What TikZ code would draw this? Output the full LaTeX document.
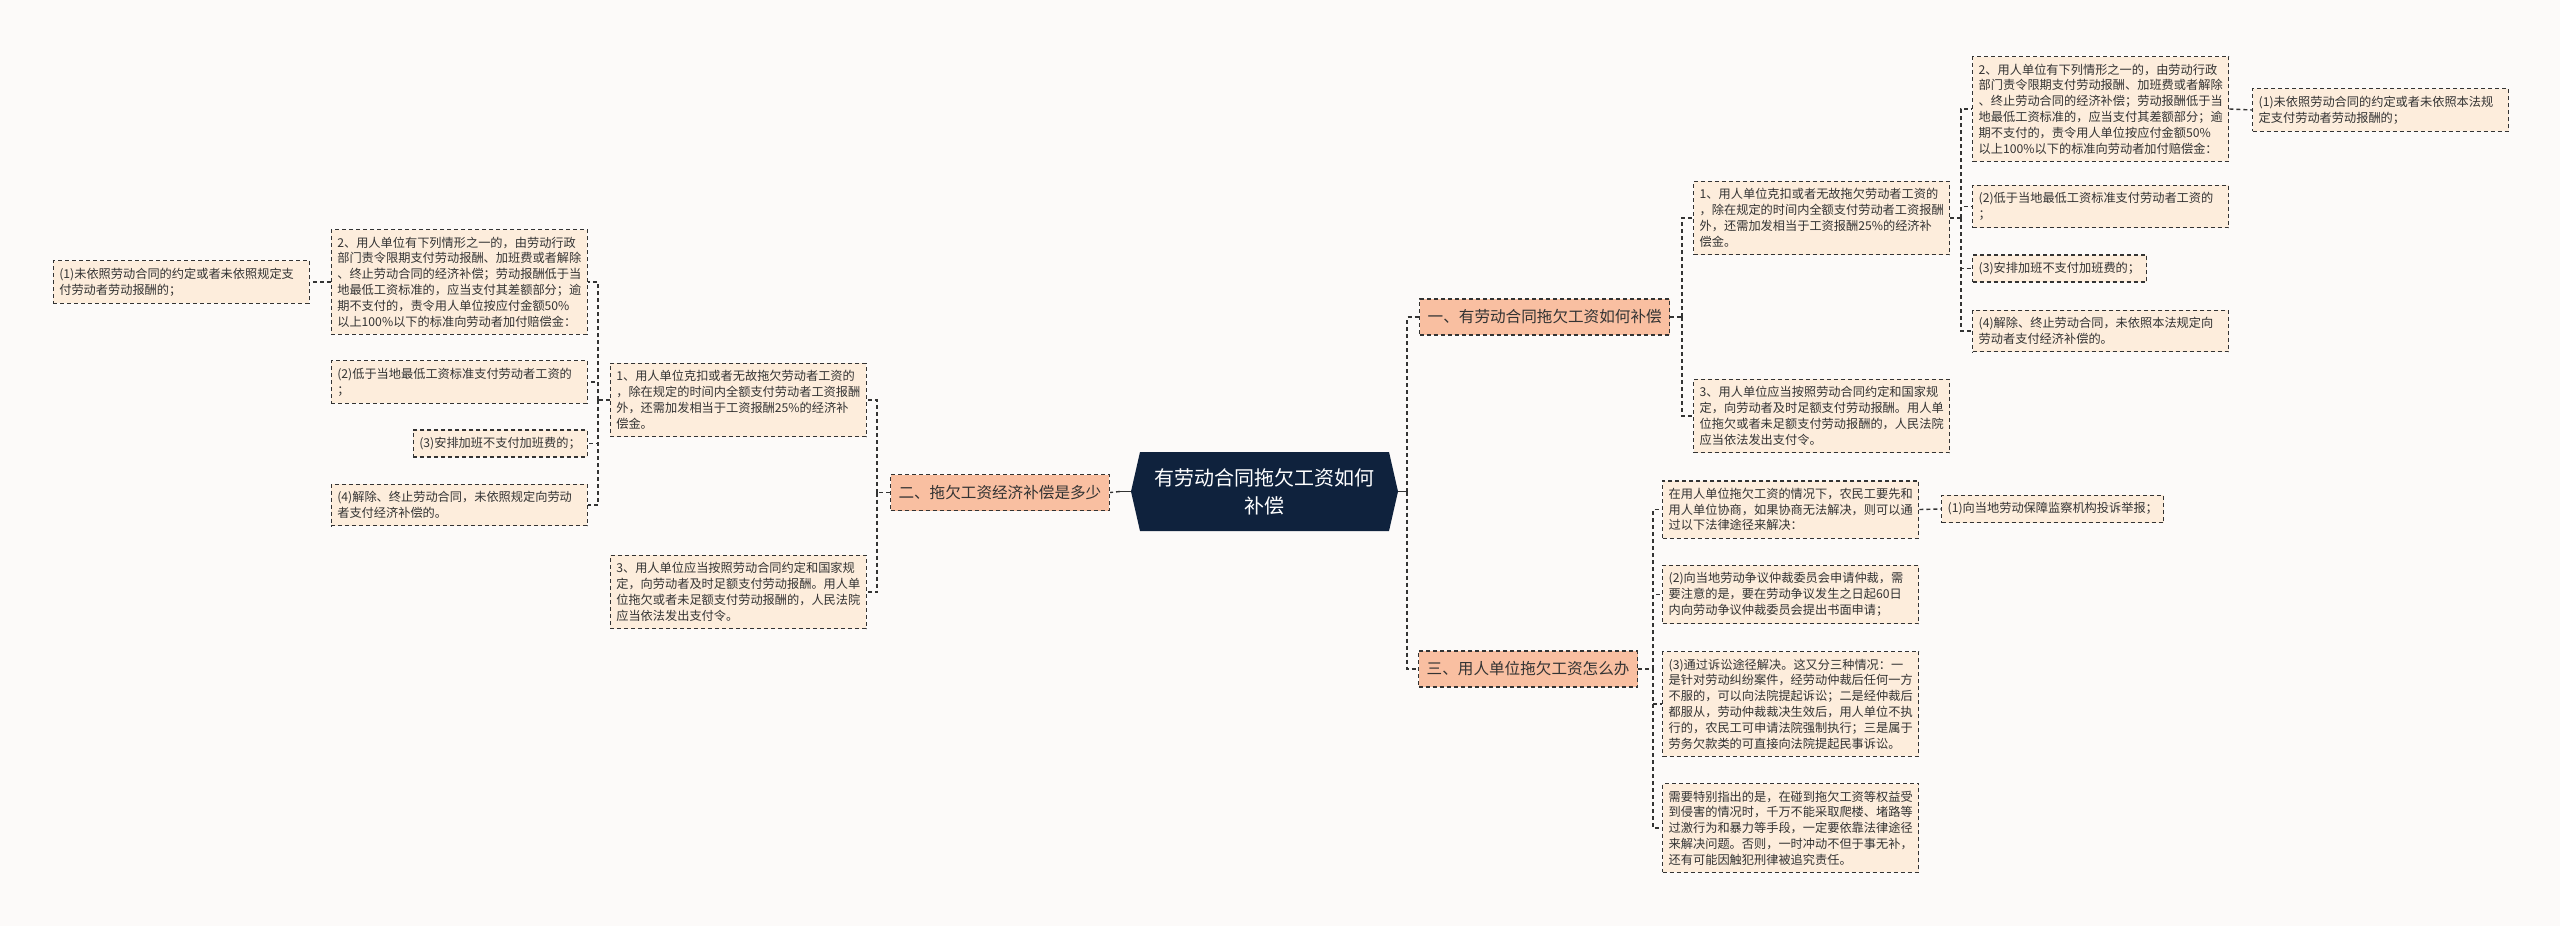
\documentclass[tikz,border=0pt]{standalone}
\usepackage{fontspec}
\setmainfont{Noto Sans CJK SC}

\definecolor{bgcol}{HTML}{FCFAF9}
\definecolor{leafcol}{HTML}{FDEDDC}
\definecolor{branchcol}{HTML}{F9BFA1}
\definecolor{rootcol}{HTML}{0F223D}
\definecolor{inkcol}{HTML}{333333}

\begin{document}
\begin{tikzpicture}[x=0.5pt,y=-0.5pt]
            \tikzset{box/.style = {draw=inkcol, dash pattern=on 2pt off 1.5pt, line width=0.7pt, fill=leafcol, text=inkcol, font=\fontsize{6.1pt}{7.9pt}\selectfont, inner xsep=3pt, inner ysep=3.6pt}}
            \tikzset{leaf/.style = {box, text width=122pt, align=left}}
            \tikzset{branch/.style = {box, fill=branchcol, font=\fontsize{7.8pt}{9pt}\selectfont, inner xsep=4pt, minimum height=18pt}}
            \tikzset{root/.style = {text=white, font=\fontsize{10pt}{14pt}\selectfont, align=center, minimum width=133.5pt, minimum height=39.5pt}}
            \tikzset{link/.style = {draw=inkcol, dash pattern=on 2pt off 1.5pt, line width=0.7pt}}
            \tikzset{stem/.style = {draw=inkcol, line width=0.7pt}}
            % canvas
            \fill[bgcol] (0,0) rectangle (2560,926);
            \useasboundingbox (0,0) rectangle (2560,926);
            % root
            \fill[rootcol] (1131,491.5) -- (1140,452) -- (1389,452) -- (1398,491.5) -- (1389,531) -- (1140,531) -- cycle;
            \node[root] (root) at (1264.5,491.5) {有劳动合同拖欠工资如何\\补偿};
            % branches
            \node[branch, anchor=west] (yi) at (1419,317) {一、有劳动合同拖欠工资如何补偿};
            \node[branch, anchor=east] (er) at (1110,492.5) {二、拖欠工资经济补偿是多少};
            \node[branch, anchor=west] (san) at (1418,669) {三、用人单位拖欠工资怎么办};
            % right side, branch one
            \node[leaf, anchor=west] (r1) at (1693,218) {1、用人单位克扣或者无故拖欠劳动者工资的\\，除在规定的时间内全额支付劳动者工资报酬\\外，还需加发相当于工资报酬25\%的经济补\\偿金。};
            \node[leaf, anchor=west] (r3) at (1693,416) {3、用人单位应当按照劳动合同约定和国家规\\定，向劳动者及时足额支付劳动报酬。用人单\\位拖欠或者未足额支付劳动报酬的，人民法院\\应当依法发出支付令。};
            \node[leaf, anchor=west] (r1a) at (1972,109) {2、用人单位有下列情形之一的，由劳动行政\\部门责令限期支付劳动报酬、加班费或者解除\\、终止劳动合同的经济补偿；劳动报酬低于当\\地最低工资标准的，应当支付其差额部分；逾\\期不支付的，责令用人单位按应付金额50\%\\以上100\%以下的标准向劳动者加付赔偿金：};
            \node[leaf, anchor=west] (r1a1) at (2252,110) {(1)未依照劳动合同的约定或者未依照本法规\\定支付劳动者劳动报酬的；};
            \node[leaf, anchor=west] (r1b) at (1972,206.5) {(2)低于当地最低工资标准支付劳动者工资的\\；};
            \node[leaf, anchor=west, text width=81pt] (r1c) at (1972,268.5) {(3)安排加班不支付加班费的；};
            \node[leaf, anchor=west] (r1d) at (1972,331) {(4)解除、终止劳动合同，未依照本法规定向\\劳动者支付经济补偿的。};
            % right side, branch three
            \node[leaf, anchor=west] (t1) at (1662,509.5) {在用人单位拖欠工资的情况下，农民工要先和\\用人单位协商，如果协商无法解决，则可以通\\过以下法律途径来解决：};
            \node[leaf, anchor=west, text width=105pt] (t1a) at (1941,509) {(1)向当地劳动保障监察机构投诉举报；};
            \node[leaf, anchor=west] (t2) at (1662,594.5) {(2)向当地劳动争议仲裁委员会申请仲裁，需\\要注意的是，要在劳动争议发生之日起60日\\内向劳动争议仲裁委员会提出书面申请；};
            \node[leaf, anchor=west] (t3) at (1662,704) {(3)通过诉讼途径解决。这又分三种情况：一\\是针对劳动纠纷案件，经劳动仲裁后任何一方\\不服的，可以向法院提起诉讼；二是经仲裁后\\都服从，劳动仲裁裁决生效后，用人单位不执\\行的，农民工可申请法院强制执行；三是属于\\劳务欠款类的可直接向法院提起民事诉讼。};
            \node[leaf, anchor=west] (t4) at (1662,828) {需要特别指出的是，在碰到拖欠工资等权益受\\到侵害的情况时，千万不能采取爬楼、堵路等\\过激行为和暴力等手段，一定要依靠法律途径\\来解决问题。否则，一时冲动不但于事无补，\\还有可能因触犯刑律被追究责任。};
            % left side, branch two
            \node[leaf, anchor=east] (l1) at (867,400) {1、用人单位克扣或者无故拖欠劳动者工资的\\，除在规定的时间内全额支付劳动者工资报酬\\外，还需加发相当于工资报酬25\%的经济补\\偿金。};
            \node[leaf, anchor=east] (l3) at (867,592) {3、用人单位应当按照劳动合同约定和国家规\\定，向劳动者及时足额支付劳动报酬。用人单\\位拖欠或者未足额支付劳动报酬的，人民法院\\应当依法发出支付令。};
            \node[leaf, anchor=east] (l1a) at (588,282) {2、用人单位有下列情形之一的，由劳动行政\\部门责令限期支付劳动报酬、加班费或者解除\\、终止劳动合同的经济补偿；劳动报酬低于当\\地最低工资标准的，应当支付其差额部分；逾\\期不支付的，责令用人单位按应付金额50\%\\以上100\%以下的标准向劳动者加付赔偿金：};
            \node[leaf, anchor=east] (l1a1) at (310,282) {(1)未依照劳动合同的约定或者未依照规定支\\付劳动者劳动报酬的；};
            \node[leaf, anchor=east] (l1b) at (588,382) {(2)低于当地最低工资标准支付劳动者工资的\\；};
            \node[leaf, anchor=east, text width=81pt] (l1c) at (588,443.5) {(3)安排加班不支付加班费的；};
            \node[leaf, anchor=east] (l1d) at (588,505) {(4)解除、终止劳动合同，未依照规定向劳动\\者支付经济补偿的。};
            % junctions
            \coordinate (jr) at (1407,491.5);
            \coordinate (jl) at (1120,491.5);
            \coordinate (jyi) at (1682,317);
            \coordinate (jsan) at (1653,669);
            \coordinate (jr1) at (1961,218);
            \coordinate (jer) at (877,492.5);
            \coordinate (jl1) at (598,400);
            % links
            \draw[stem] (root.east) -- (jr);
            \draw[stem] (root.west) -- (jl);
            \draw[link] (jr) |- (yi.west);
            \draw[link] (jr) |- (san.west);
            \draw[link] (jl) -- (er.east);
            \draw[link] (yi.east) -- (jyi);
            \foreach \c in {r1,r3} \draw[link] (jyi) |- (\c.west);
            \draw[link] (r1.east) -- (jr1);
            \foreach \c in {r1a,r1b,r1c,r1d} \draw[link] (jr1) |- (\c.west);
            \draw[link] (r1a.east) -- (r1a1.west);
            \draw[link] (san.east) -- (jsan);
            \foreach \c in {t1,t2,t3,t4} \draw[link] (jsan) |- (\c.west);
            \draw[link] (t1.east) -- (t1a.west);
            \draw[link] (er.west) -- (jer);
            \foreach \c in {l1,l3} \draw[link] (jer) |- (\c.east);
            \draw[link] (l1.west) -- (jl1);
            \foreach \c in {l1a,l1b,l1c,l1d} \draw[link] (jl1) |- (\c.east);
            \draw[link] (l1a.west) -- (l1a1.east);
        \end{tikzpicture}
\end{document}
